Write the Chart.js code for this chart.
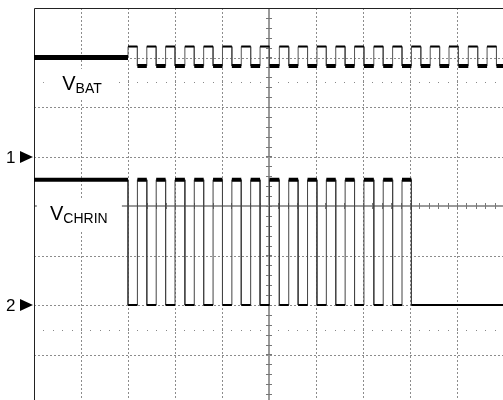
<!DOCTYPE html>
<html>
<head>
<meta charset="utf-8">
<script src="https://cdn.jsdelivr.net/npm/chart.js@4.4.1/dist/chart.umd.min.js"></script>
<style>
html, body { margin: 0; padding: 0; background: #fff; overflow: hidden; }
#wrap { width: 503px; height: 400px; overflow: hidden; position: relative; }
canvas { position: absolute; left: 0; top: 0; }
</style>
</head>
<body>
<div id="wrap"><canvas id="scope" width="540" height="420"></canvas></div>
<script>
// Screen units are divisions: 10 across, 8 tall, 0 = centre line
const xDivs = [0, 1, 2, 3, 4, 5, 6, 7, 8, 9, 10];
const yDivs = [-4, -3, -2, -1, 0, 1, 2, 3, 4];

// Channel 1 - VBAT
const ch1Rise = [2.00, 2.40, 2.80, 3.21, 3.61, 4.01, 4.41, 4.81, 5.22, 5.62, 6.02, 6.42, 6.82, 7.23, 7.63, 8.03, 8.43, 8.83, 9.24, 9.64];
const ch1Fall = [2.20, 2.60, 3.00, 3.41, 3.81, 4.21, 4.61, 5.01, 5.42, 5.82, 6.22, 6.62, 7.02, 7.43, 7.83, 8.23, 8.63, 9.03, 9.44, 9.84];
const ch1Idle = 3.0;
const ch1High = 3.22;
const ch1Low = 2.83;

// Channel 2 - VCHRIN
const ch2Fall = [2.00, 2.40, 2.80, 3.21, 3.61, 4.01, 4.41, 4.81, 5.22, 5.62, 6.02, 6.42, 6.82, 7.23, 7.63, 8.03];
const ch2Rise = [2.20, 2.60, 3.00, 3.41, 3.81, 4.21, 4.61, 5.01, 5.42, 5.82, 6.22, 6.62, 7.02, 7.43, 7.83];
const ch2High = 0.53;
const ch2Low = -2.0;

// channel markers on the left edge
const markers = [{ text: "1", level: 1.0 }, { text: "2", level: -2.0 }];

// trace labels (position in divisions)
const traceLabels = [
    { main: "V", sub: "BAT", x: 0.6, y: 2.34, box: [0.21, 2.77, 1.78, 2.15] },
    { main: "V", sub: "CHRIN", x: 0.34, y: -0.28, box: [0.06, 0.16, 1.87, -0.5] }
];

function stepTrace(start, rises, falls, hi, lo) {
    let events = [];
    rises.forEach(t => events.push({ t: t, level: hi }));
    falls.forEach(t => events.push({ t: t, level: lo }));
    events.sort((a, b) => a.t - b.t);
    let pts = [{ x: 0, y: start }];
    let cur = start;
    events.forEach(e => {
        pts.push({ x: e.t, y: cur });
        pts.push({ x: e.t, y: e.level });
        cur = e.level;
    });
    pts.push({ x: 10, y: cur });
    return pts;
}

// pieces of a level between "from" and "to" edges, broken by gaps
function pieces(froms, tos, level) {
    let pts = [];
    froms.forEach(a => {
        let b = tos.find(t => t > a);
        if (b === undefined) b = 10;
        pts.push({ x: a, y: level }, { x: b, y: level }, { x: b, y: null });
    });
    return pts;
}

const ch1Trace = stepTrace(ch1Idle, ch1Rise, ch1Fall, ch1High, ch1Low);
const ch2Trace = stepTrace(ch2High, ch2Rise, ch2Fall, ch2High, ch2Low);

function line(data, width, color, order) {
    return {
        data: data,
        showLine: true,
        borderColor: color,
        borderWidth: width,
        pointRadius: 0,
        spanGaps: false,
        borderCapStyle: "butt",
        tension: 0,
        order: order
    };
}

const scopeGrid = {
    id: "scopeGrid",
    beforeDatasetsDraw(chart) {
        const ctx = chart.ctx;
        const xs = chart.scales.x, ys = chart.scales.y;
        const top = ys.getPixelForValue(4), bottom = ys.getPixelForValue(-4);
        const left = xs.getPixelForValue(0), right = xs.getPixelForValue(10);
        ctx.save();
        ctx.lineWidth = 1;
        ctx.strokeStyle = "#8c8c8c";
        ctx.setLineDash([2, 2]);
        xDivs.forEach(v => {
            if (v === 0 || v === 5 || v === 10) return;
            const px = Math.round(xs.getPixelForValue(v)) + 0.5;
            ctx.beginPath(); ctx.moveTo(px, top); ctx.lineTo(px, bottom); ctx.stroke();
        });
        yDivs.forEach(v => {
            if (v === 0 || v === 4 || v === -4) return;
            const py = Math.round(ys.getPixelForValue(v)) + 0.5;
            ctx.beginPath(); ctx.moveTo(left, py); ctx.lineTo(right, py); ctx.stroke();
        });
        ctx.setLineDash([]);

        // sparse dotted rows
        ctx.fillStyle = "#888";
        [2.5, -2.5].forEach(v => {
            const py = Math.round(ys.getPixelForValue(v));
            for (let t = 0.2; t < 10; t += 0.2) {
                ctx.fillRect(Math.round(xs.getPixelForValue(t)), py, 1, 1);
            }
        });

        // centre axes with minor ticks
        const cx = Math.round(xs.getPixelForValue(5));
        const cy = Math.round(ys.getPixelForValue(0));
        ctx.strokeStyle = "#9a9a9a";
        ctx.lineWidth = 2;
        ctx.beginPath(); ctx.moveTo(cx, top); ctx.lineTo(cx, bottom); ctx.stroke();
        ctx.beginPath(); ctx.moveTo(left, cy); ctx.lineTo(right, cy); ctx.stroke();
        ctx.lineWidth = 1;
        ctx.strokeStyle = "#777";
        for (let t = 0.2; t < 10; t += 0.2) {
            const px = Math.round(xs.getPixelForValue(t)) + 0.5;
            ctx.beginPath(); ctx.moveTo(px, cy - 3); ctx.lineTo(px, cy + 3); ctx.stroke();
        }
        for (let v = -3.8; v < 4; v += 0.2) {
            const py = Math.round(ys.getPixelForValue(v)) + 0.5;
            ctx.beginPath(); ctx.moveTo(cx - 3, py); ctx.lineTo(cx + 3, py); ctx.stroke();
        }

        // white boxes behind the labels
        ctx.fillStyle = "#fff";
        traceLabels.forEach(l => {
            const x0 = xs.getPixelForValue(l.box[0]), y0 = ys.getPixelForValue(l.box[1]);
            const x1 = xs.getPixelForValue(l.box[2]), y1 = ys.getPixelForValue(l.box[3]);
            ctx.fillRect(x0, y0, x1 - x0, y1 - y0);
        });

        // frame
        ctx.strokeStyle = "#222";
        ctx.lineWidth = 1;
        ctx.beginPath();
        ctx.moveTo(left + 0.5, bottom); ctx.lineTo(left + 0.5, top + 0.5); ctx.lineTo(right, top + 0.5);
        ctx.stroke();
        ctx.restore();
    },
    afterDraw(chart) {
        const ctx = chart.ctx;
        const xs = chart.scales.x, ys = chart.scales.y;
        ctx.save();
        ctx.fillStyle = "#000";
        ctx.textBaseline = "alphabetic";
        traceLabels.forEach(l => {
            const px = xs.getPixelForValue(l.x), py = ys.getPixelForValue(l.y);
            ctx.font = "20px 'Liberation Sans', Arial, sans-serif";
            ctx.fillText(l.main, px, py);
            const w = ctx.measureText(l.main).width;
            ctx.font = "14px 'Liberation Sans', Arial, sans-serif";
            ctx.fillText(l.sub, px + w, py + 3);
        });
        markers.forEach(m => {
            const py = Math.round(ys.getPixelForValue(m.level));
            ctx.font = "17px 'Liberation Sans', Arial, sans-serif";
            ctx.fillText(m.text, 6, py + 6);
            ctx.beginPath();
            ctx.moveTo(20, py - 6); ctx.lineTo(33, py); ctx.lineTo(20, py + 6);
            ctx.closePath(); ctx.fill();
        });
        ctx.restore();
    }
};

new Chart(document.getElementById("scope"), {
    type: "scatter",
    data: {
        datasets: [
            line(ch1Trace, 1, "#555", 5),
            line(pieces(ch1Rise, ch1Fall, ch1High), 2, "#000", 1),
            line([{ x: 0, y: ch1Idle }, { x: ch1Rise[0], y: ch1Idle }], 5, "#000", 1),
            line(pieces(ch1Fall, ch1Rise, ch1Low), 4, "#000", 1),
            line(ch2Trace, 1, "#444", 5),
            line(pieces(ch2Fall, ch2Rise, ch2Low), 2, "#000", 1),
            line([{ x: 0, y: ch2High }, { x: ch2Fall[0], y: ch2High }], 4, "#000", 1),
            line(pieces(ch2Rise, ch2Fall, ch2High), 4, "#000", 1)
        ]
    },
    options: {
        responsive: false,
        animation: false,
        layout: { padding: { left: 34, top: 8, right: 36, bottom: 16 } },
        scales: {
            x: { type: "linear", min: 0, max: 10, display: false },
            y: { type: "linear", min: -4, max: 4, display: false }
        },
        plugins: { legend: { display: false }, tooltip: { enabled: false } }
    },
    plugins: [scopeGrid]
});
</script>
</body>
</html>
